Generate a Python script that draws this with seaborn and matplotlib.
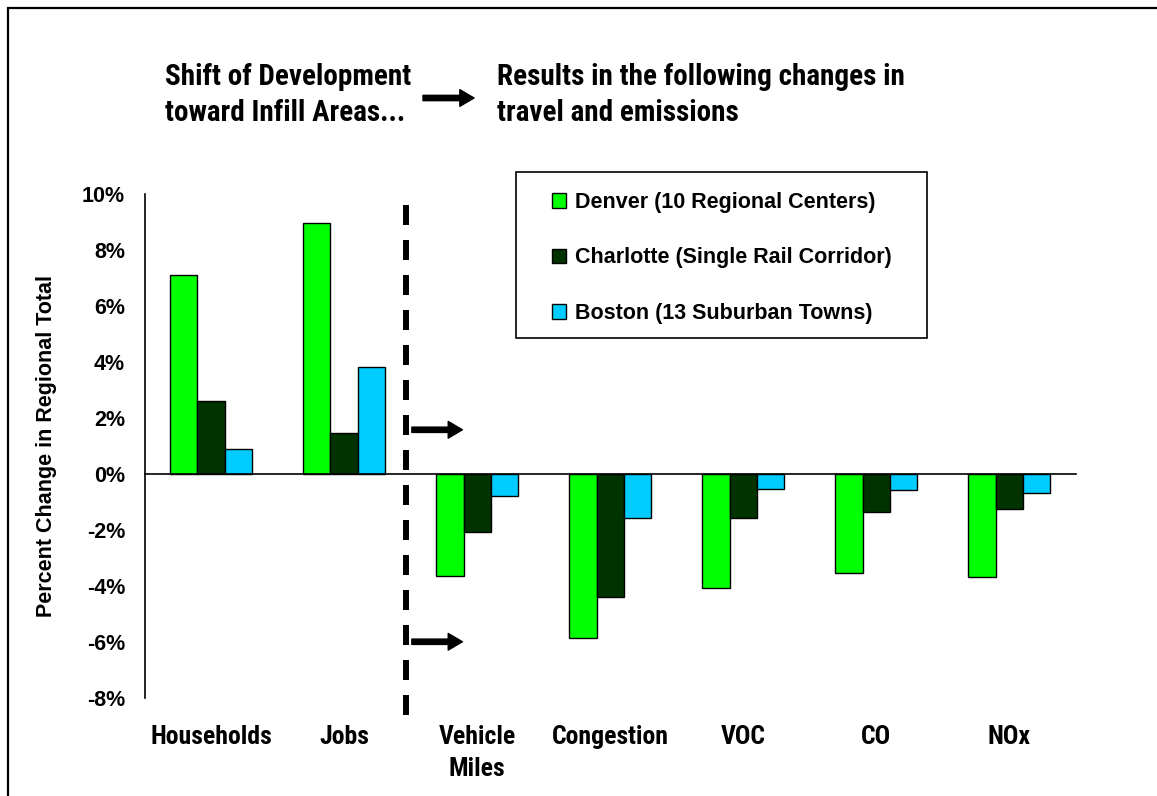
import matplotlib
matplotlib.use('Agg')
import matplotlib.pyplot as plt
from matplotlib import font_manager
from matplotlib.font_manager import FontProperties
from matplotlib.patches import Rectangle
import pandas as pd
import seaborn as sns

categories = ['Households', 'Jobs', 'Vehicle\nMiles', 'Congestion', 'VOC', 'CO', 'NOx']
cities = ['Denver (10 Regional Centers)', 'Charlotte (Single Rail Corridor)',
          'Boston (13 Suburban Towns)']
denver = [7.13, 8.99, -3.64, -5.86, -4.07, -3.54, -3.67]
charlotte = [2.62, 1.45, -2.06, -4.40, -1.57, -1.36, -1.25]
boston = [0.89, 3.83, -0.80, -1.56, -0.55, -0.58, -0.67]
colors = ['#00FF00', '#003300', '#00CCFF']
yticks = [-8, -6, -4, -2, 0, 2, 4, 6, 8, 10]
ytick_labels = [f'{v}%' for v in yticks]
header_left = 'Shift of Development\ntoward Infill Areas...'
header_right = 'Results in the following changes in\ntravel and emissions'

sns.set_style('white')
plt.rcParams['font.family'] = ['Liberation Sans', 'DejaVu Sans']
plt.rcParams['lines.scale_dashes'] = False
for k in ['text.color', 'axes.labelcolor', 'xtick.color', 'ytick.color']:
    plt.rcParams[k] = 'black'

# condensed bold face for header and category names
files = [f.fname for f in font_manager.fontManager.ttflist]
prefs = ['RobotoCondensed-Bold.', 'LiberationSansNarrow-Bold.', 'NotoSans-CondensedBold.',
         'DejaVuSansCondensed-Bold.']
cond_file = None
for p in prefs:
    hits = [f for f in files if p in f.split('/')[-1]]
    if hits:
        cond_file = hits[0]
        break


def cond(size):
    if cond_file:
        return FontProperties(fname=cond_file, size=size)
    return FontProperties(family='DejaVu Sans', weight='bold', stretch='condensed', size=size)


df = pd.DataFrame({
    'category': categories * 3,
    'city': [c for c in cities for _ in categories],
    'value': denver + charlotte + boston,
})

fig = plt.figure(figsize=(11.57, 7.96), dpi=100)
ax = fig.add_axes([0.1249, 0.1235, 0.8047, 0.6324])

sns.barplot(data=df, x='category', y='value', hue='city', order=categories,
            hue_order=cities, palette=colors, width=0.61, gap=0,
            edgecolor='black', linewidth=1, saturation=1, ax=ax, legend=False)

for s in ['top', 'right']:
    ax.spines[s].set_visible(False)
ax.spines['bottom'].set_position(('data', 0))
for s in ['left', 'bottom']:
    ax.spines[s].set_color('black')
    ax.spines[s].set_linewidth(1.2)

ax.set_xlim(-0.5, 6.5)
ax.set_ylim(-8, 10)
ax.tick_params(axis='x', which='major', length=0, pad=181)
ax.tick_params(axis='x', which='minor', length=4, width=1, color='#555555', direction='out')
ax.tick_params(axis='y', length=6, width=1, color='black', direction='out', pad=8)
ax.set_yticks(yticks)
ax.set_yticklabels(ytick_labels, fontsize=15.5, fontweight='bold')
ax.set_xticks(range(len(categories)))
ax.set_xticks([i + 0.5 for i in range(len(categories))], minor=True)
ax.set_xticklabels(categories, fontproperties=cond(18.5), linespacing=1.38)
ax.set_xlabel('')
ax.set_ylabel('Percent Change in Regional Total', fontsize=15.5, fontweight='bold', labelpad=18)

# dashed divider between inputs and results
ax.plot([1.466, 1.466], [9.6, -8.9], color='black', linewidth=4.3,
        dashes=(14.4, 10.8), clip_on=False, zorder=5)

arrow = dict(arrowstyle='simple,head_length=0.85,head_width=1.0,tail_width=0.32',
             mutation_scale=12, fc='black', ec='black', shrinkA=0, shrinkB=0)
for yv in [1.58, -6.0]:
    ax.annotate('', xy=(1.89, yv), xytext=(1.51, yv), arrowprops=arrow, annotation_clip=False)

# header
fig.text(165 / 1157, 1 - 95 / 796, header_left, fontproperties=cond(21),
         va='center', ha='left', linespacing=1.36)
fig.text(497 / 1157, 1 - 95 / 796, header_right, fontproperties=cond(21),
         va='center', ha='left', linespacing=1.36)
ax.annotate('', xy=(474 / 1157, 1 - 98 / 796), xytext=(423 / 1157, 1 - 98 / 796),
            xycoords='figure fraction', textcoords='figure fraction', arrowprops=arrow)

# legend
handles = [Rectangle((0, 0), 1, 1, fc=c, ec='black', lw=1) for c in colors]
fig.legend(handles, cities, loc='upper left', bbox_to_anchor=(552 / 1157, 1 - 192 / 796),
           frameon=False, borderpad=0, borderaxespad=0,
           prop=dict(weight='bold', size=15.5), handlelength=0.65, handleheight=0.65,
           handletextpad=0.4, labelspacing=1.6)
fig.patches.append(Rectangle((516 / 1157, 1 - 338 / 796), 411 / 1157, 166 / 796,
                             transform=fig.transFigure, fill=False, ec='black', lw=1.2))

# outer frame
fig.patches.append(Rectangle((8 / 1157, -0.1), 1.2, 1.1 - 8 / 796,
                             transform=fig.transFigure, fill=False, ec='black', lw=1.6))

fig.savefig('out.png', dpi=100)
